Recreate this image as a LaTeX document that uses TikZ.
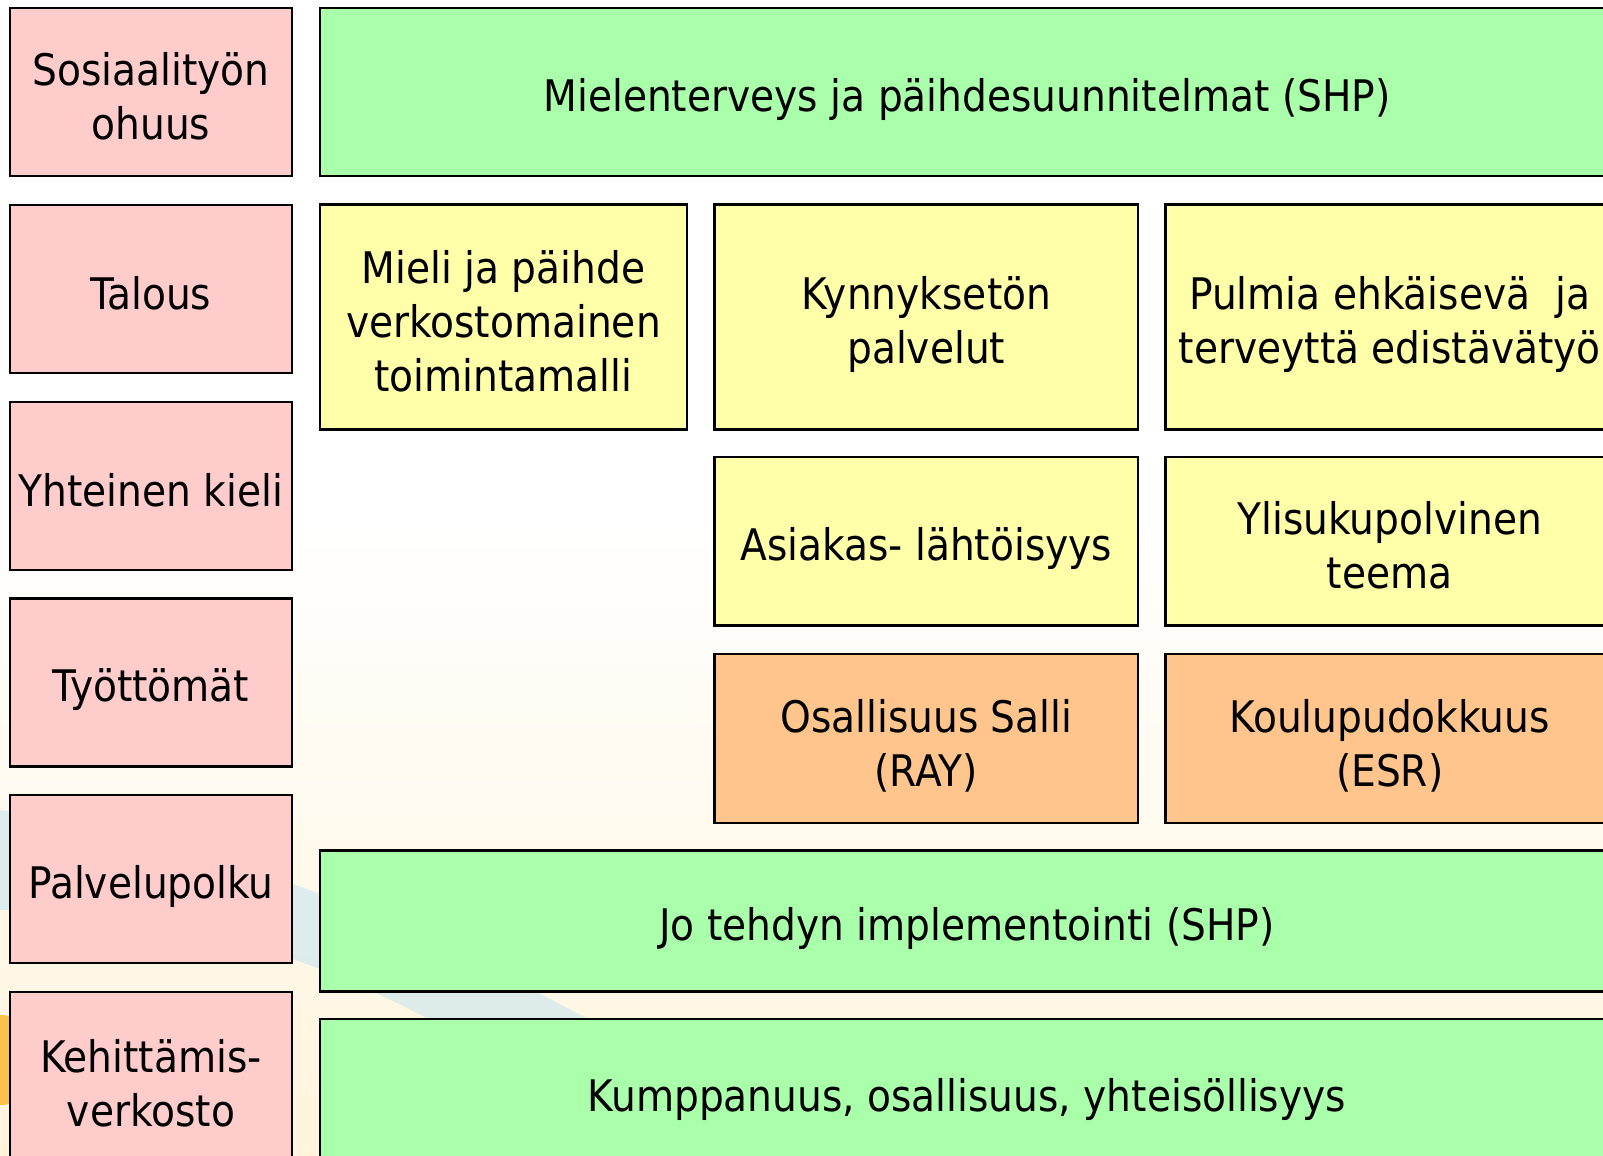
\documentclass[tikz,border=0pt]{standalone}
\usepackage{fontspec}
\setmainfont{DejaVu Sans Condensed}
\usepackage{tikz}
\definecolor{boxpink}{RGB}{255,204,204}
\definecolor{boxgreen}{RGB}{170,255,170}
\definecolor{boxyellow}{RGB}{255,255,170}
\definecolor{boxorange}{RGB}{255,197,140}
\definecolor{cream}{RGB}{255,244,220}
\definecolor{swoosh}{RGB}{200,228,240}
\definecolor{sun}{RGB}{250,180,40}
\newcommand\boxstrut{\rule[-6.5pt]{0pt}{54pt}}

\tikzset{
  box/.style={draw=black, line width=2.5pt, rectangle, inner sep=0pt, align=center,
    font=\fontsize{43.5}{54}\selectfont, execute at end node=\boxstrut},
  sidebox/.style={box, fill=boxpink, minimum width=282pt, minimum height=168pt},
  greenbox/.style={box, fill=boxgreen, minimum width=1294pt},
  yellowbox/.style={box, fill=boxyellow},
  orangebox/.style={box, fill=boxorange, minimum height=169pt},
}

\begin{document}
\begin{tikzpicture}[x=1pt,y=-1pt]
		\useasboundingbox (0,0) rectangle (1603,1156);
		\begin{scope}                           % clip to the page
			\clip (0,0) rectangle (1603,1156);
			% background
			\fill[white] (0,0) rectangle (1603,1156);
			\shade[top color=white, bottom color=cream] (0,520) rectangle (1603,1156);
			\fill[swoosh, opacity=0.6] (0,810) .. controls (220,840) and (400,920) .. (600,1025)
				-- (440,1025) .. controls (300,950) and (180,915) .. (0,910) -- cycle;
			\fill[sun, opacity=0.8] (0,1060) circle (45);
			
			% left column
			\node[sidebox] (sosiaali) at (151,92) {\boxstrut Sosiaalityön\\ohuus};
			\node[sidebox] (talous) at (151,288.75) {Talous};
			\node[sidebox] (kieli) at (151,485.75) {Yhteinen kieli};
			\node[sidebox] (tyottomat) at (151,682.5) {Työttömät};
			\node[sidebox] (polku) at (151,879) {Palvelupolku};
			\node[sidebox, minimum height=173pt] (verkosto) at (151,1078.5) {\boxstrut Kehittämis-\\verkosto};
			
			% green rows
			\node[greenbox, minimum height=168pt] (mielenterveys) at (967,92) {Mielenterveys ja päihdesuunnitelmat (SHP)};
			\node[greenbox, minimum height=141pt] (implementointi) at (967,921) {Jo tehdyn implementointi (SHP)};
			\node[greenbox, minimum height=146pt] (kumppanuus) at (967,1092) {Kumppanuus, osallisuus, yhteisöllisyys};
			
			% middle rows
			\node[yellowbox, minimum width=367pt, minimum height=225pt] (malli) at (503.5,317) {\boxstrut Mieli ja päihde\\verkostomainen\\toimintamalli};
			\node[yellowbox, minimum width=423.5pt, minimum height=225pt] (kynnys) at (926.25,317) {\boxstrut Kynnyksetön\\palvelut};
			\node[yellowbox, minimum width=448.5pt, minimum height=225pt] (pulmia) at (1389.75,317) {\boxstrut Pulmia ehkäisevä\ \ ja\\terveyttä edistävätyö};
			\node[yellowbox, minimum width=423.5pt, minimum height=168.5pt] (asiakas) at (926.25,541.25) {Asiakas- lähtöisyys};
			\node[yellowbox, minimum width=448.5pt, minimum height=168.5pt] (ylisuku) at (1389.75,541.25) {\boxstrut Ylisukupolvinen\\teema};
			\node[orangebox, minimum width=423.5pt] (salli) at (926.25,738.5) {\boxstrut Osallisuus Salli\\(RAY)};
			\node[orangebox, minimum width=448.5pt] (koulu) at (1389.75,738.5) {\boxstrut Koulupudokkuus\\(ESR)};
		\end{scope}
		\end{tikzpicture}
\end{document}
